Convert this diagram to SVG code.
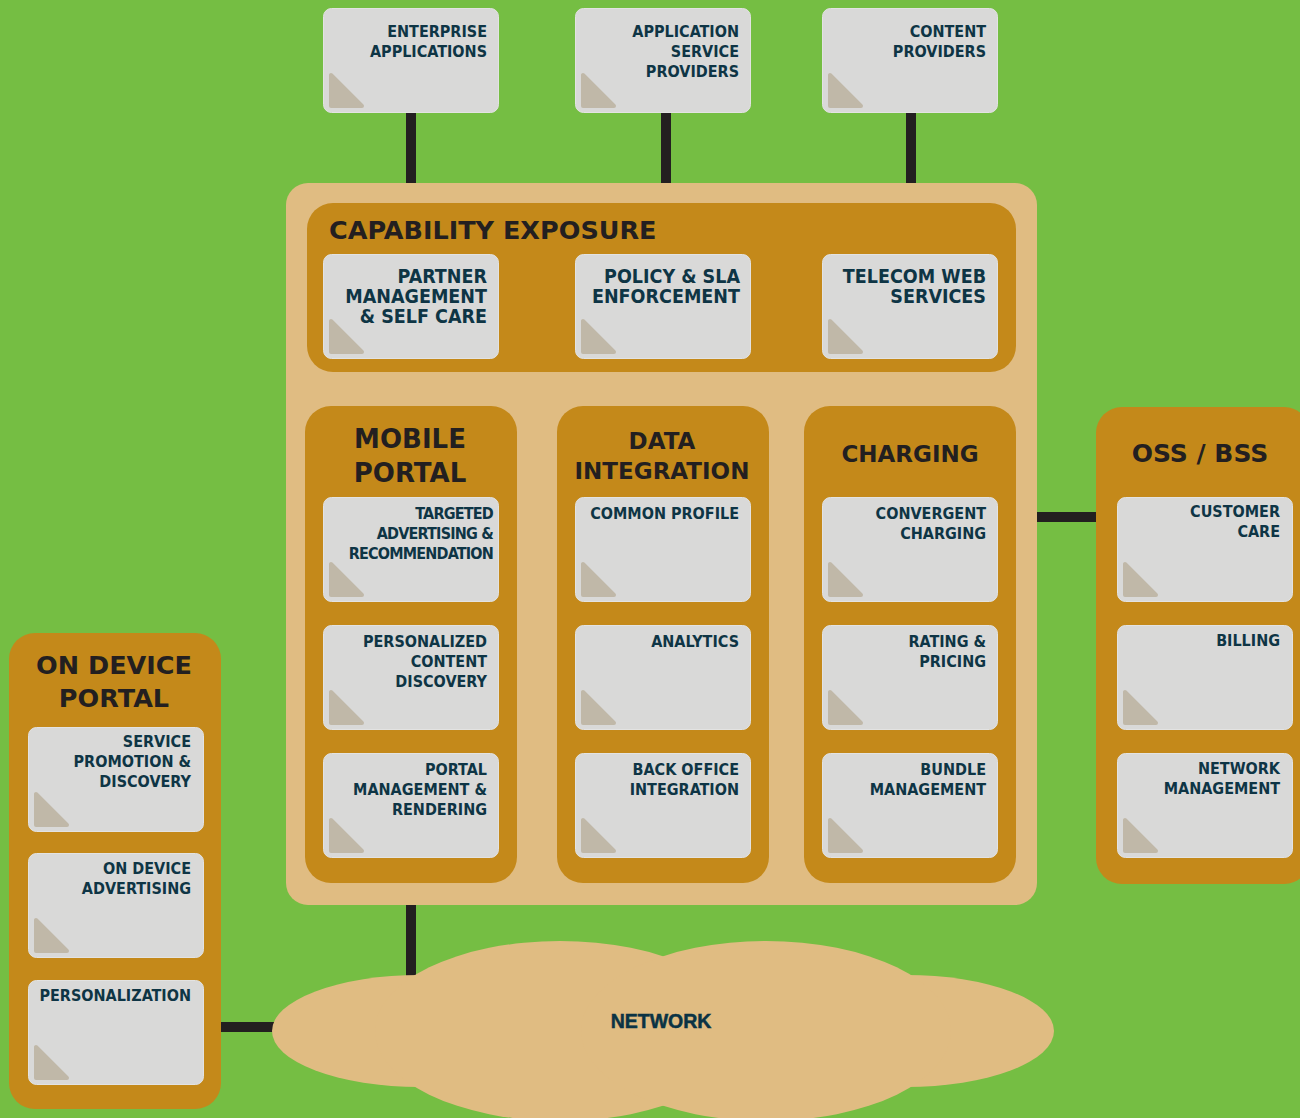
<svg xmlns="http://www.w3.org/2000/svg" xmlns:xlink="http://www.w3.org/1999/xlink" width="1300" height="1118" viewBox="0 0 1300 1118">
<style>
.panel{fill:#C4891A}
.outer{fill:#E0BC82}
.ct{font-family:"DejaVu Sans","Liberation Sans",sans-serif;font-weight:bold;font-stretch:condensed;font-size:16px;fill:#0E3545;text-anchor:end}
.cc{font-size:19.5px}
.tt{font-family:"DejaVu Sans","Liberation Sans",sans-serif;font-weight:bold;font-size:26px;fill:#231F20;text-anchor:middle}
.conn{stroke:#231F20;stroke-width:10;fill:none}
.net{font-family:"Liberation Sans",Arial,sans-serif;font-weight:bold;font-size:19.5px;fill:#0B3344;stroke:#0B3344;stroke-width:0.5;text-anchor:middle}
</style>
<defs>
<g id="card">
<rect x="0.5" y="0.5" width="175" height="104" rx="8" fill="#D9D9D8" stroke="#E3E3E2" stroke-width="1"/>
<path d="M8 67 L8 98 L39 98 Z" fill="#C0B8A8" stroke="#C0B8A8" stroke-width="4" stroke-linejoin="round"/>
</g>
</defs>
<rect width="1300" height="1118" fill="#75BE43"/>

<g id="connectors">
<line class="conn" x1="411" y1="112" x2="411" y2="185"/>
<line class="conn" x1="666" y1="112" x2="666" y2="185"/>
<line class="conn" x1="911" y1="112" x2="911" y2="185"/>
<line class="conn" x1="1035" y1="517" x2="1098" y2="517"/>
<line class="conn" x1="411" y1="903" x2="411" y2="978"/>
<line class="conn" x1="219" y1="1027" x2="276" y2="1027"/>
</g>

<g id="enterprise-applications">
<use href="#card" x="323" y="8"/>
<text class="ct" x="487" y="37">ENTERPRISE</text>
<text class="ct" x="487" y="57">APPLICATIONS</text>
</g>
<g id="application-service-providers">
<use href="#card" x="575" y="8"/>
<text class="ct" x="739" y="37">APPLICATION</text>
<text class="ct" x="739" y="57">SERVICE</text>
<text class="ct" x="739" y="77">PROVIDERS</text>
</g>
<g id="content-providers">
<use href="#card" x="822" y="8"/>
<text class="ct" x="986" y="37">CONTENT</text>
<text class="ct" x="986" y="57">PROVIDERS</text>
</g>

<g id="platform">
<rect class="outer" x="286" y="183" width="751" height="722" rx="22"/>
</g>

<g id="capability-exposure">
<rect class="panel" x="307" y="203" width="709" height="169" rx="26"/>
<text class="tt" x="329" y="239" style="text-anchor:start;font-size:25.5px">CAPABILITY EXPOSURE</text>
</g>
<g id="partner-management">
<use href="#card" x="323" y="254"/>
<text class="ct cc" x="487" y="283">PARTNER</text>
<text class="ct cc" x="487" y="303">MANAGEMENT</text>
<text class="ct cc" x="487" y="323">&amp; SELF CARE</text>
</g>
<g id="policy-sla">
<use href="#card" x="575" y="254"/>
<text class="ct cc" x="740" y="283">POLICY &amp; SLA</text>
<text class="ct cc" x="740" y="303">ENFORCEMENT</text>
</g>
<g id="telecom-web-services">
<use href="#card" x="822" y="254"/>
<text class="ct cc" x="986" y="283">TELECOM WEB</text>
<text class="ct cc" x="986" y="303">SERVICES</text>
</g>

<g id="mobile-portal">
<rect class="panel" x="305" y="406" width="212" height="477" rx="26"/>
<text class="tt" x="410" y="448">MOBILE</text>
<text class="tt" x="410" y="482">PORTAL</text>
</g>
<g id="targeted-advertising">
<use href="#card" x="323" y="497"/>
<text class="ct" x="493" y="519" letter-spacing="-0.8">TARGETED</text>
<text class="ct" x="493" y="539" letter-spacing="-0.8">ADVERTISING &amp;</text>
<text class="ct" x="493" y="559" letter-spacing="-0.8">RECOMMENDATION</text>
</g>
<g id="personalized-content-discovery">
<use href="#card" x="323" y="625"/>
<text class="ct" x="487" y="647">PERSONALIZED</text>
<text class="ct" x="487" y="667">CONTENT</text>
<text class="ct" x="487" y="687">DISCOVERY</text>
</g>
<g id="portal-management">
<use href="#card" x="323" y="753"/>
<text class="ct" x="487" y="775">PORTAL</text>
<text class="ct" x="487" y="795">MANAGEMENT &amp;</text>
<text class="ct" x="487" y="815">RENDERING</text>
</g>

<g id="data-integration">
<rect class="panel" x="557" y="406" width="212" height="477" rx="26"/>
<text class="tt" x="662" y="449" style="font-size:23px">DATA</text>
<text class="tt" x="662" y="479" style="font-size:23px">INTEGRATION</text>
</g>
<g id="common-profile">
<use href="#card" x="575" y="497"/>
<text class="ct" x="739" y="519">COMMON PROFILE</text>
</g>
<g id="analytics">
<use href="#card" x="575" y="625"/>
<text class="ct" x="739" y="647">ANALYTICS</text>
</g>
<g id="back-office-integration">
<use href="#card" x="575" y="753"/>
<text class="ct" x="739" y="775">BACK OFFICE</text>
<text class="ct" x="739" y="795">INTEGRATION</text>
</g>

<g id="charging">
<rect class="panel" x="804" y="406" width="212" height="477" rx="26"/>
<text class="tt" x="910" y="462" style="font-size:23px">CHARGING</text>
</g>
<g id="convergent-charging">
<use href="#card" x="822" y="497"/>
<text class="ct" x="986" y="519">CONVERGENT</text>
<text class="ct" x="986" y="539">CHARGING</text>
</g>
<g id="rating-pricing">
<use href="#card" x="822" y="625"/>
<text class="ct" x="986" y="647">RATING &amp;</text>
<text class="ct" x="986" y="667">PRICING</text>
</g>
<g id="bundle-management">
<use href="#card" x="822" y="753"/>
<text class="ct" x="986" y="775">BUNDLE</text>
<text class="ct" x="986" y="795">MANAGEMENT</text>
</g>

<g id="oss-bss">
<rect class="panel" x="1096" y="407" width="214" height="477" rx="26"/>
<text class="tt" x="1200" y="462" style="font-size:25px">OSS / BSS</text>
</g>
<g id="customer-care">
<use href="#card" x="1117" y="497"/>
<text class="ct" x="1280" y="517">CUSTOMER</text>
<text class="ct" x="1280" y="537">CARE</text>
</g>
<g id="billing">
<use href="#card" x="1117" y="625"/>
<text class="ct" x="1280" y="646">BILLING</text>
</g>
<g id="network-management">
<use href="#card" x="1117" y="753"/>
<text class="ct" x="1280" y="774">NETWORK</text>
<text class="ct" x="1280" y="794">MANAGEMENT</text>
</g>

<g id="on-device-portal">
<rect class="panel" x="9" y="633" width="212" height="476" rx="26"/>
<text class="tt" x="114" y="674" style="font-size:25.5px">ON DEVICE</text>
<text class="tt" x="114" y="707" style="font-size:25.5px">PORTAL</text>
</g>
<g id="service-promotion-discovery">
<use href="#card" x="28" y="727"/>
<text class="ct" x="191" y="747">SERVICE</text>
<text class="ct" x="191" y="767">PROMOTION &amp;</text>
<text class="ct" x="191" y="787">DISCOVERY</text>
</g>
<g id="on-device-advertising">
<use href="#card" x="28" y="853"/>
<text class="ct" x="191" y="874">ON DEVICE</text>
<text class="ct" x="191" y="894">ADVERTISING</text>
</g>
<g id="personalization">
<use href="#card" x="28" y="980"/>
<text class="ct" x="191" y="1001">PERSONALIZATION</text>
</g>

<g id="network">
<g fill="#E0BC82">
<ellipse cx="420" cy="1031" rx="148" ry="56"/>
<ellipse cx="906" cy="1031" rx="148" ry="56"/>
<ellipse cx="560" cy="1031" rx="185" ry="90"/>
<ellipse cx="766" cy="1031" rx="185" ry="90"/>
</g>
<text class="net" x="661" y="1028">NETWORK</text>
</g>
</svg>
